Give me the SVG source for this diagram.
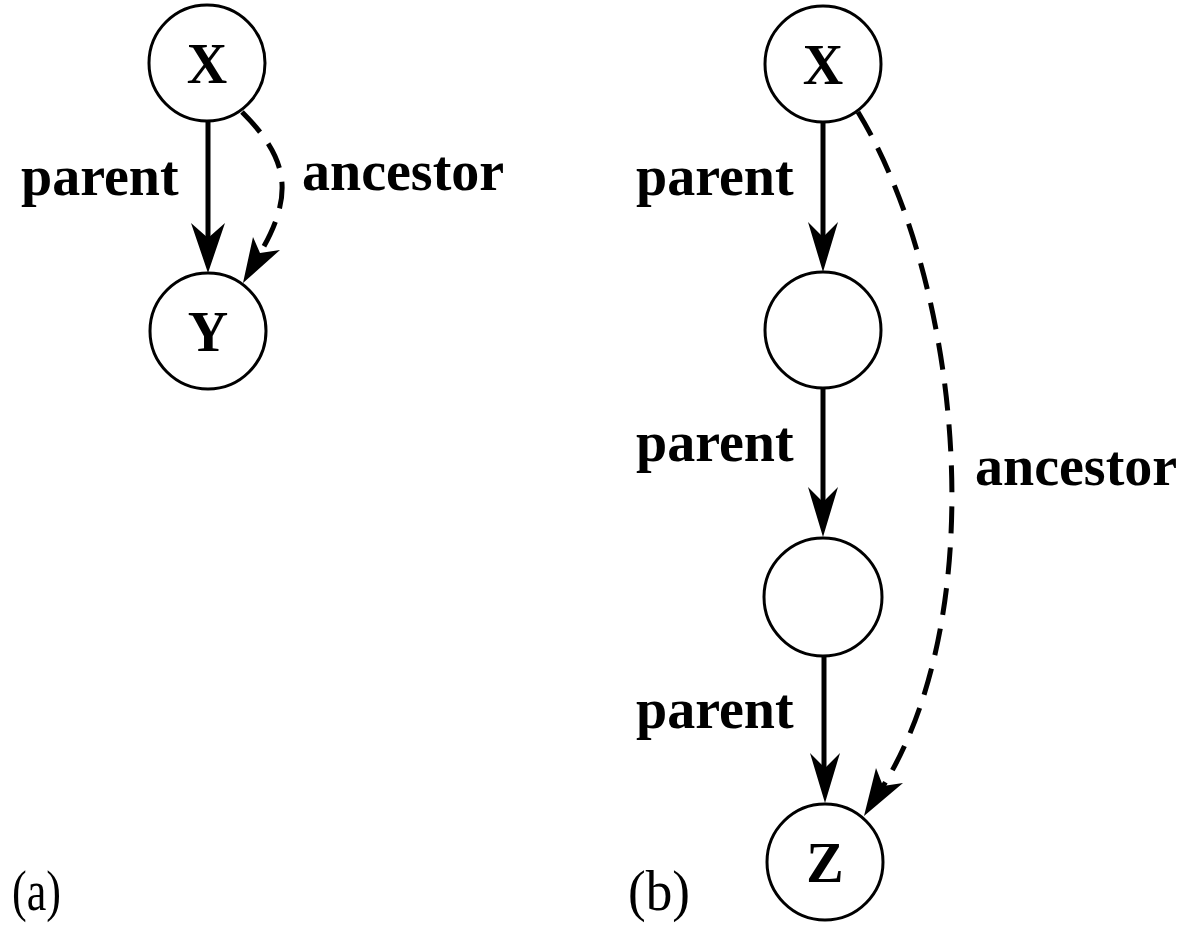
<svg xmlns="http://www.w3.org/2000/svg" width="1190" height="929" viewBox="0 0 1190 929">
<style>
.node{fill:#fff;stroke:#000;stroke-width:3}
.nl{font-family:"Liberation Serif","Times New Roman",serif;font-weight:bold;font-size:56px;text-anchor:middle}
.el{font-family:"Liberation Serif","Times New Roman",serif;font-weight:bold;font-size:56px}
.cap{font-family:"Liberation Serif","Times New Roman",serif;font-size:57px}
.solid{fill:none;stroke:#000;stroke-width:5}
.dash{fill:none;stroke:#000;stroke-width:5;stroke-dasharray:27 14}
.head{fill:#000;stroke:none}
</style>
<rect width="1190" height="929" fill="#fff"/>
<g id="connectors">
  <line class="solid" x1="208" y1="122" x2="208" y2="240"/>
  <polygon class="head" points="208,273 191,223 208,238 225,223"/>
  <path class="dash" d="M242,112 C290,160 294,196 259,255"/>
  <polygon class="head" points="243,283 253,237 260,253 280,250"/>
  <line class="solid" x1="823" y1="122" x2="823" y2="240"/>
  <polygon class="head" points="823,272 808,222 823,237 838,222"/>
  <line class="solid" x1="823" y1="388" x2="823" y2="505"/>
  <polygon class="head" points="823,537 808,487 823,502 838,487"/>
  <line class="solid" x1="824" y1="655" x2="824" y2="770"/>
  <polygon class="head" points="825,803 810,753 825,768 840,753"/>
  <path class="dash" d="M858,112 C960,280 994.5,608 882,788"/>
  <polygon class="head" points="864,816 876,768 883,786 903,783"/>
</g>
<g id="label-a-parent"><text class="el" x="21" y="195">parent</text></g>
<g id="label-a-ancestor"><text class="el" x="302" y="190">ancestor</text></g>
<g id="label-b-parent1"><text class="el" x="636" y="195">parent</text></g>
<g id="label-b-parent2"><text class="el" x="636" y="461">parent</text></g>
<g id="label-b-parent3"><text class="el" x="636" y="728">parent</text></g>
<g id="label-b-ancestor"><text class="el" x="975" y="485">ancestor</text></g>
<g id="node-a-X"><circle class="node" cx="207" cy="63" r="58"/><text class="nl" x="207" y="83">X</text></g>
<g id="node-a-Y"><circle class="node" cx="208" cy="331" r="58"/><text class="nl" x="208" y="351">Y</text></g>
<g id="node-b-X"><circle class="node" cx="823" cy="64" r="58"/><text class="nl" x="823" y="84">X</text></g>
<g id="node-b-1"><circle class="node" cx="823" cy="330" r="58"/></g>
<g id="node-b-2"><circle class="node" cx="823" cy="597" r="59"/></g>
<g id="node-b-Z"><circle class="node" cx="825" cy="862" r="58"/><text class="nl" x="825" y="882">Z</text></g>
<g id="caption-a"><text class="cap" x="12" y="910" textLength="49" lengthAdjust="spacingAndGlyphs">(a)</text></g>
<g id="caption-b"><text class="cap" x="628" y="910" textLength="62" lengthAdjust="spacingAndGlyphs">(b)</text></g>
</svg>
